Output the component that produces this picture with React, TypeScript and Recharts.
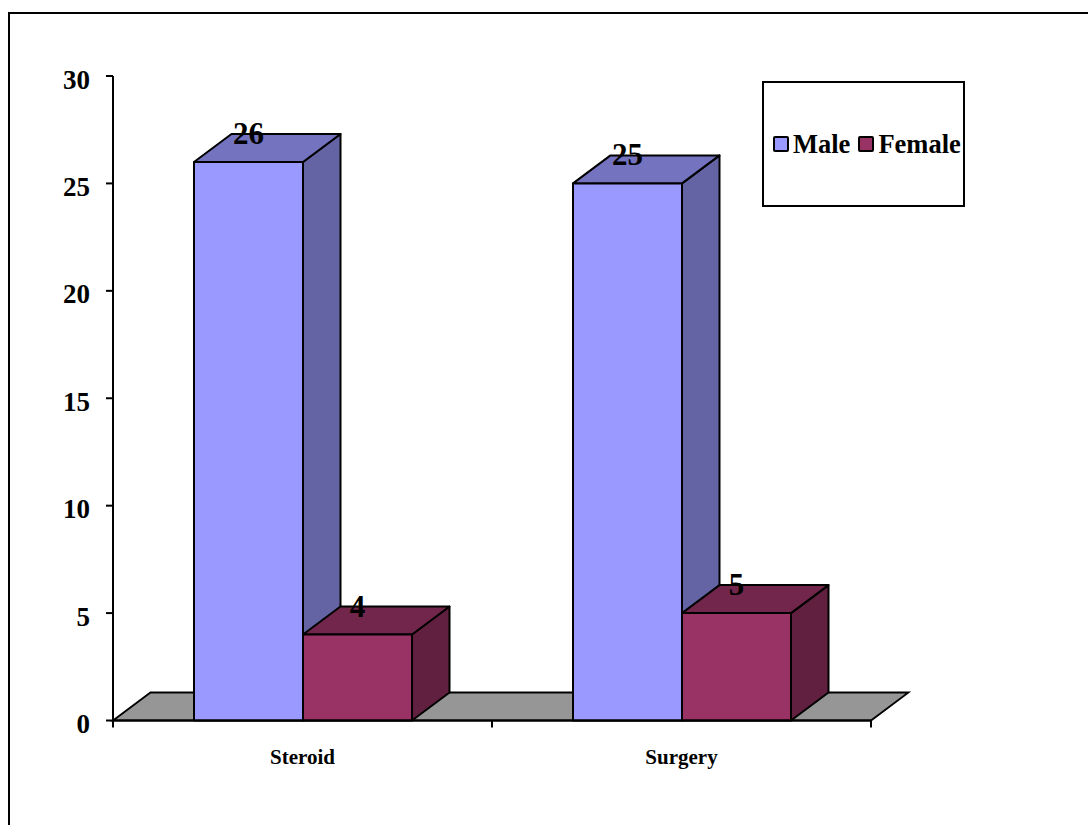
import React from "react";
import { BarChart, Bar, XAxis, YAxis, Legend, LabelList, usePlotArea } from "recharts";

const categories = ["Steroid", "Surgery"];
const maleValues = [26, 25];
const femaleValues = [4, 5];
const yTicks = [0, 5, 10, 15, 20, 25, 30];

const rows = categories.map((name, i) => ({ name, Male: maleValues[i], Female: femaleValues[i] }));

const FONT = '"Liberation Serif", "Times New Roman", serif';
const DEPTH_X = 37.5;
const DEPTH_Y = 28;
const STROKE = "#000";

// Grey floor of the 3D plot, running back from the category axis.
function Floor() {
  const area = usePlotArea();
  if (!area) return null;
  const { x, y, width, height } = area;
  const b = y + height;
  return (
    <polygon
      points={`${x},${b} ${x + DEPTH_X},${b - DEPTH_Y} ${x + width + DEPTH_X},${b - DEPTH_Y} ${x + width},${b}`}
      fill="#969696"
      stroke={STROKE}
      strokeWidth={1.8}
    />
  );
}

// Category axis ticks sit on the band boundaries rather than the band centres.
function BandTicks() {
  const area = usePlotArea();
  if (!area) return null;
  const { x, y, width, height } = area;
  const b = y + height;
  return (
    <g stroke={STROKE} strokeWidth={2}>
      {Array.from({ length: categories.length + 1 }, (_, i) => {
        const px = x + (i * width) / categories.length;
        return <line key={i} x1={px} x2={px} y1={b} y2={b + 7} />;
      })}
    </g>
  );
}

// Extruded column: front face plus a lighter top and a darker side.
function makeColumn(front: string, top: string, side: string) {
  return function Column(props: any) {
    const { x, y, width, height } = props;
    const r = x + width;
    const b = y + height;
    return (
      <g stroke={STROKE} strokeWidth={2} strokeLinejoin="round">
        <polygon
          points={`${r},${y} ${r + DEPTH_X},${y - DEPTH_Y} ${r + DEPTH_X},${b - DEPTH_Y} ${r},${b}`}
          fill={side}
        />
        <polygon
          points={`${x},${y} ${x + DEPTH_X},${y - DEPTH_Y} ${r + DEPTH_X},${y - DEPTH_Y} ${r},${y}`}
          fill={top}
        />
        <rect x={x} y={y} width={width} height={height} fill={front} />
      </g>
    );
  };
}

function ValueLabel(props: any) {
  const { x, y, width, value } = props;
  return (
    <text
      x={x + width / 2}
      y={y - 18}
      textAnchor="middle"
      fontFamily={FONT}
      fontWeight="bold"
      fontSize={31}
      fill="#000"
    >
      {value}
    </text>
  );
}

function LegendBox(props: any) {
  const items = props.payload || [];
  return (
    <div
      style={{
        boxSizing: "border-box",
        width: 203,
        height: 126,
        border: "2.5px solid #000",
        background: "#fff",
        display: "flex",
        alignItems: "center",
        paddingLeft: 9,
        fontFamily: FONT,
        fontWeight: "bold",
        fontSize: 26.5,
        color: "#000",
        whiteSpace: "nowrap",
      }}
    >
      {items.map((it: any) => (
        <span key={it.value} style={{ display: "flex", alignItems: "center", marginRight: 8 }}>
          <span
            style={{
              boxSizing: "border-box",
              width: 16,
              height: 16,
              border: "2px solid #000",
              borderRadius: 2,
              background: it.color,
              marginRight: 4,
            }}
          />
          {it.value}
        </span>
      ))}
    </div>
  );
}

export default function App() {
  return (
    <div style={{ position: "absolute", left: 0, top: 0, width: 1088, height: 825, overflow: "hidden", background: "#fff" }}>
      <div
        style={{
          position: "absolute",
          left: 8,
          top: 12,
          width: 1100,
          height: 900,
          border: "2px solid #000",
          boxSizing: "border-box",
        }}
      />
      <BarChart
        width={1088}
        height={825}
        data={rows}
        margin={{ top: 76, right: 14, bottom: 44.5, left: 0 }}
        barSize={109}
        barGap={0}
        style={{ position: "absolute", left: 0, top: 0 }}
      >
        <Floor />
        <XAxis
          dataKey="name"
          height={60}
          tickLine={false}
          axisLine={{ stroke: "#000", strokeWidth: 2 }}
          tickSize={7}
          tickMargin={22}
          interval={0}
          tick={{ fontFamily: FONT, fontWeight: "bold", fontSize: 21, fill: "#000" }}
        />
        <YAxis
          width={113}
          domain={[0, 30]}
          ticks={yTicks}
          tickLine={{ stroke: "#000", strokeWidth: 2 }}
          axisLine={{ stroke: "#000", strokeWidth: 2 }}
          tickSize={7}
          tickMargin={16}
          tick={{ fontFamily: FONT, fontWeight: "bold", fontSize: 27, fill: "#000", dy: 3 }}
        />
        <Legend
          layout="horizontal"
          verticalAlign="middle"
          align="right"
          itemSorter={null}
          content={<LegendBox />}
          wrapperStyle={{ position: "absolute", left: 762, top: 81, width: 203, height: 126 }}
        />
        <Bar
          dataKey="Male"
          fill="#9999ff"
          isAnimationActive={false}
          shape={makeColumn("#9999ff", "#7373c0", "#6464a5")}
        >
          <LabelList dataKey="Male" content={<ValueLabel />} />
        </Bar>
        <Bar
          dataKey="Female"
          fill="#993366"
          isAnimationActive={false}
          shape={makeColumn("#993366", "#73264c", "#61203f")}
        >
          <LabelList dataKey="Female" content={<ValueLabel />} />
        </Bar>
        <BandTicks />
      </BarChart>
    </div>
  );
}
